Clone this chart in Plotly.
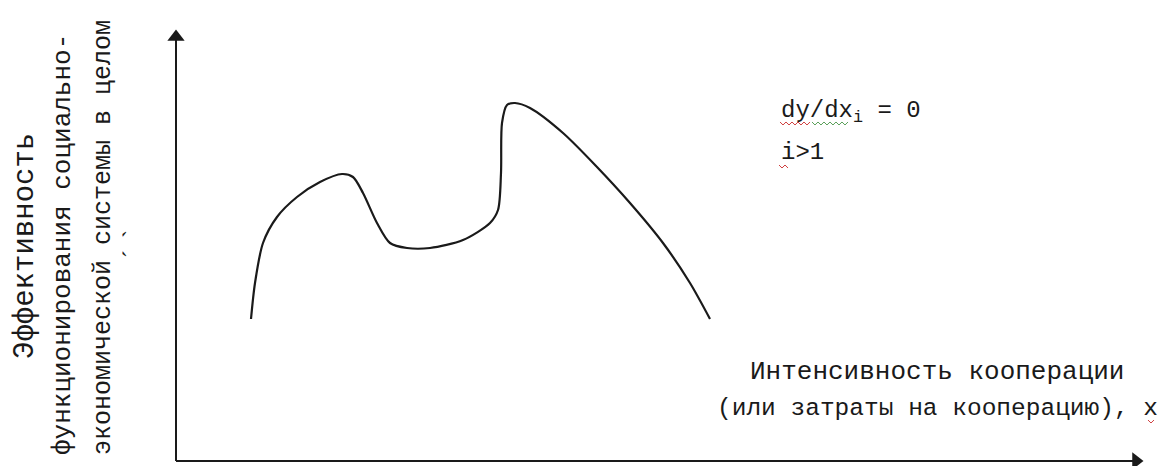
import plotly.graph_objects as go

# Cooperation intensity (x) vs. overall system effectiveness (y), arbitrary units
intensity = [75, 79, 87, 101, 121, 144, 166, 177, 187, 201, 214, 231, 254, 287,
             314, 322, 325, 326, 331, 339, 354, 387, 421, 454, 487, 514, 534]
effect = [142, 178, 218, 244, 264, 279, 287, 284, 268, 238, 218, 213, 213, 221,
          238, 251, 288, 338, 356, 358, 353, 328, 294, 258, 218, 178, 142]

x_label = ["Интенсивность кооперации", "(или затраты на кооперацию), х"]
y_label = ["Эффективность", "функционирования социально-",
           "экономической системы в целом"]
formula = ["dy/dx<sub>i</sub> = 0", "i>1"]

X_MAX, Y_MAX = 967, 431  # tips of the drawn axes
HEAD = 7                 # arrowhead half-length, axis units

INK = "#1a1a1a"
MONO = "Liberation Mono, Courier New, monospace"
SERIF = "Liberation Serif, Times New Roman, serif"

fig = go.Figure()

# axes as plain lines with triangular heads
fig.add_trace(go.Scatter(
    x=[0, 0, None, 0, X_MAX - HEAD], y=[Y_MAX - HEAD, 0, None, 0, 0],
    mode="lines", line=dict(color=INK, width=2),
    hoverinfo="skip", showlegend=False,
))
fig.add_trace(go.Scatter(
    x=[0, X_MAX - HEAD], y=[Y_MAX - HEAD, 0], mode="markers",
    marker=dict(symbol=["triangle-up", "triangle-right"], size=15, color=INK,
                line=dict(width=0)),
    hoverinfo="skip", showlegend=False,
))

# the effectiveness curve
fig.add_trace(go.Scatter(
    x=intensity, y=effect, mode="lines",
    line=dict(color=INK, width=2.2, shape="spline", smoothing=0.8),
    hoverinfo="skip", showlegend=False,
))

anns = []
# horizontal axis title
for txt, yy, sz in zip(x_label, [89, 53], [26, 24.5]):
    anns.append(dict(x=761, y=yy, xref="x", yref="y", text=txt, showarrow=False,
                     xanchor="center", yanchor="middle",
                     font=dict(family=MONO, size=sz, color=INK)))

# vertical axis title, three rotated lines
for txt, xx, yy, sz in zip(y_label, [-151, -113, -73], [215, 216, 223], [29, 26, 25]):
    anns.append(dict(x=xx, y=yy, xref="x", yref="y", text=txt, showarrow=False,
                     textangle=-90, xanchor="center", yanchor="middle",
                     font=dict(family=MONO, size=sz, color=INK)))
anns.append(dict(x=-45, y=217, xref="x", yref="y", text="´  `", showarrow=False,
                 textangle=-90, xanchor="center", yanchor="middle",
                 font=dict(family=SERIF, size=24, color=INK)))

# condition text
for txt, yy in zip(formula, [349, 309]):
    anns.append(dict(x=603, y=yy, xref="x", yref="y", text=txt, showarrow=False,
                     xanchor="left", yanchor="middle",
                     font=dict(family=MONO, size=24, color=INK)))

# proofing squiggles under a few words
def squiggle(x0, x1, y, color):
    pts, k, xx = [], 0, x0
    while xx <= x1:
        pts.append((xx / 1163, 1 - (y + (2 if k % 2 else -1)) / 466))
        xx += 3
        k += 1
    return dict(type="path", xref="paper", yref="paper", layer="above",
                path="M" + " L".join(f"{a:.5f},{b:.5f}" for a, b in pts),
                line=dict(color=color, width=1))

shapes = [
    squiggle(780, 812, 123, "#d04040"),
    squiggle(812, 848, 123, "#5aa05a"),
    squiggle(779, 788, 166, "#d04040"),
    squiggle(1148, 1156, 421, "#d04040"),
]

fig.update_layout(
    width=1163, height=466,
    margin=dict(l=0, r=0, t=0, b=0),
    paper_bgcolor="white", plot_bgcolor="white",
    xaxis=dict(range=[-176, 987], visible=False, fixedrange=True),
    yaxis=dict(range=[-5, 461], visible=False, fixedrange=True),
    annotations=anns,
    shapes=shapes,
)

fig.write_html("out.html")
